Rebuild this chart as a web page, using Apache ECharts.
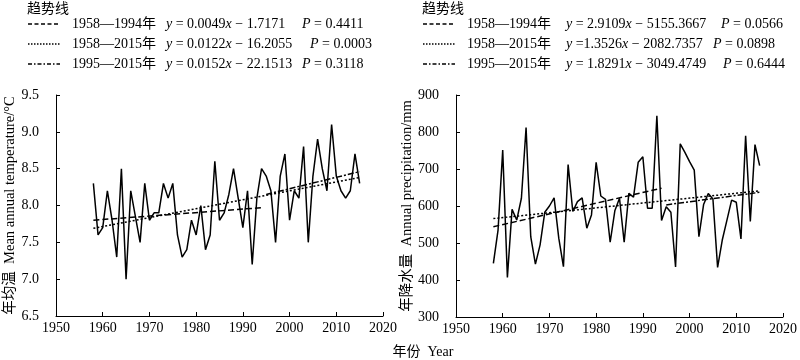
<!DOCTYPE html>
<html><head><meta charset="utf-8">
<script src="https://cdn.jsdelivr.net/npm/echarts@6/dist/echarts.min.js"></script>
<style>html,body{margin:0;padding:0;background:#fff}#c{width:800px;height:360px}</style>
</head><body><div id="c"></div>
<script>
var years = [];
for (var y = 1958; y <= 2015; y++) years.push(y);
var tempValues = [8.3,7.6,7.7,8.2,7.8,7.3,8.5,7.0,8.2,7.85,7.5,8.3,7.8,7.9,7.9,8.3,8.1,8.3,7.6,7.3,
  7.4,7.8,7.6,8.0,7.4,7.6,8.6,7.8,7.9,8.15,8.5,8.1,7.7,8.2,7.2,8.1,8.5,8.4,8.2,7.5,
  8.4,8.7,7.8,8.2,8.1,8.8,7.5,8.4,8.9,8.5,8.2,9.1,8.4,8.2,8.1,8.2,8.7,8.3];
var precipValues = [445,535,751,407,591,562,621,812,517,443,495,583,600,622,513,436,712,585,612,622,
  540,576,718,627,618,502,587,621,502,634,624,718,733,594,594,844,561,598,583,435,
  768,745,720,697,517,604,634,619,434,508,562,616,610,511,790,558,766,709];
var xTicks = {min:1950, max:2020, interval:10};
var tempTicks = {min:6.5, max:9.5, interval:0.5};
var precipTicks = {min:300, max:900, interval:100};
// trend lines: [startYear, startValue, endYear, endValue]
var tempTrend1 = [1958, 7.80, 1994, 7.97];
var tempTrend2 = [1958, 7.69, 2015, 8.38];
var tempTrend3 = [1995, 8.15, 2015, 8.46];
var precipTrend1 = [1958, 544, 1994, 648];
var precipTrend2 = [1958, 566, 2015, 641];
var precipTrend3 = [1995, 603, 2015, 637];
var legendPeriods = ['1958\u20141994年','1958\u20142015年','1995\u20142015年'];
var tempEq = [['= 0.0049','\u2212 1.7171','0.4411'],['= 0.0122','\u2212 16.2055','0.0003'],['= 0.0152','\u2212 22.1513','0.3118']];
var precipEq = [['= 2.9109','\u2212 5155.3667','0.0566'],['=1.3526','\u2212 2082.7357','0.0898'],['= 1.8291','\u2212 3049.4749','0.6444']];
var legendTitle = '趋势线';
var tempName = '年均温  Mean annual temperature/°C';
var precipName = '年降水量  Annual precipitation/mm';
var xName = '年份  Year';

var FONT = '"Liberation Serif","Times New Roman","Noto Sans CJK SC",serif';
var dashStyles = [[6,3],[2,2],[6,2,2,2]];

function pairs(vals){ return years.map(function(y,i){return [y, vals[i]];}); }
function seg(t){ return [[t[0],t[1]],[t[2],t[3]]]; }

function xAxisCfg(gi){
  return {type:'value', gridIndex:gi, min:xTicks.min, max:xTicks.max, interval:xTicks.interval,
    axisLine:{lineStyle:{color:'#000',width:1}}, axisTick:{inside:true,length:4,lineStyle:{color:'#000'}},
    splitLine:{show:false}, axisLabel:{color:'#000', fontFamily:FONT, fontSize:14, margin:5,
      formatter:function(v){return String(v);}}};
}
function yAxisCfg(gi, t, name, gap, dec){
  return {type:'value', gridIndex:gi, min:t.min, max:t.max, interval:t.interval,
    name:name, nameLocation:'middle', nameGap:gap, nameRotate:90,
    nameTextStyle:{color:'#000', fontFamily:FONT, fontSize:14.5},
    axisLine:{show:true,lineStyle:{color:'#000',width:1}}, axisTick:{show:true,inside:true,length:4,lineStyle:{color:'#000'}},
    splitLine:{show:false}, axisLabel:{color:'#000', fontFamily:FONT, fontSize:14, margin:17,
      formatter:function(v){return v.toFixed(dec);}}};
}
function lineSeries(gi, data){
  return {type:'line', xAxisIndex:gi, yAxisIndex:gi, data:data, symbol:'none', silent:true,
    lineStyle:{color:'#000', width:1.5}, z:3};
}
function trendSeries(gi, t, k){
  return {type:'line', xAxisIndex:gi, yAxisIndex:gi, data:seg(t), symbol:'none', silent:true,
    lineStyle:{color:'#000', width:1.5, type:dashStyles[k]}, z:4};
}

var graphics = [];
var rich = {i:{fontFamily:FONT, fontSize:14, fontStyle:'italic', fill:'#000'}, n:{fontFamily:FONT, fontSize:14, fill:'#000'}};
function legendBlock(x0, eqs, yX, pXs){
  graphics.push({type:'text', x:x0, y:8, style:{text:legendTitle, font:'14px "Noto Sans CJK SC"', fill:'#000', textVerticalAlign:'middle'}});
  var rows = [24, 44, 64];
  for (var i=0;i<3;i++){
    var yy = rows[i];
    graphics.push({type:'line', shape:{x1:x0+1, y1:yy, x2:x0+33, y2:yy},
      style:{stroke:'#000', lineWidth:1.5, lineDash:(i==1?[1.5,1.5]:(i==0?[4,2.5]:[4,2,1.5,2]))}});
    graphics.push({type:'text', x:x0+45, y:yy, style:{text:legendPeriods[i], font:'14px '+FONT, fill:'#000', textVerticalAlign:'middle'}});
    graphics.push({type:'text', x:yX, y:yy, style:{rich:rich,
      text:'{i|y}{n| '+eqs[i][0]+'}{i|x}{n| '+eqs[i][1]+'}', textVerticalAlign:'middle'}});
    graphics.push({type:'text', x:pXs[i], y:yy, style:{rich:rich,
      text:'{i|P}{n| = '+eqs[i][2]+'}', textVerticalAlign:'middle'}});
  }
}
legendBlock(27, tempEq, 166, [302,310,302]);
legendBlock(422, precipEq, 566, [721,713,723]);
graphics.push({type:'text', x:423, y:352, style:{text:xName, font:'14px '+FONT, fill:'#000', textAlign:'center', textVerticalAlign:'middle'}});

var chart = echarts.init(document.getElementById('c'), null, {renderer:'canvas'});
chart.setOption({
  animation:false,
  backgroundColor:'#fff',
  grid:[{left:56, top:95, width:327, height:221},{left:456, top:95, width:327, height:222}],
  xAxis:[xAxisCfg(0), xAxisCfg(1)],
  yAxis:[yAxisCfg(0, tempTicks, tempName, 34, 1), yAxisCfg(1, precipTicks, precipName, 36, 0)],
  series:[
    lineSeries(0, pairs(tempValues)),
    trendSeries(0, tempTrend1, 0), trendSeries(0, tempTrend2, 1), trendSeries(0, tempTrend3, 2),
    lineSeries(1, pairs(precipValues)),
    trendSeries(1, precipTrend1, 0), trendSeries(1, precipTrend2, 1), trendSeries(1, precipTrend3, 2)
  ],
  graphic:graphics
});
</script></body></html>
